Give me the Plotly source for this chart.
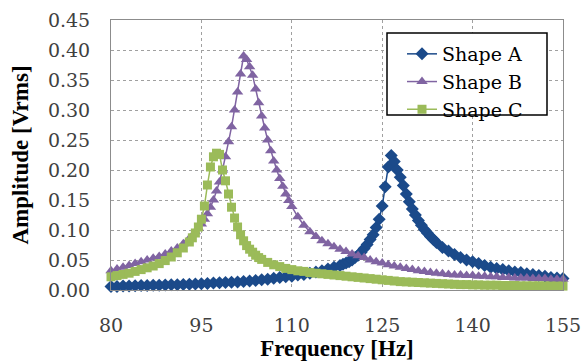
import plotly.graph_objects as go

# ---------------- data ----------------
freq_a = [80, 81, 82, 83, 84, 85, 86, 87, 88, 89, 90, 91, 92, 93, 94, 95, 96, 97, 98, 99,
          100, 101, 102, 103, 104, 105, 106, 107, 108, 109, 110, 111, 112, 113, 114, 115, 116, 117, 118,
          118.5, 119, 119.5, 120, 120.5, 121, 121.5, 122, 122.5, 123, 123.5, 124, 124.5, 125, 125.5,
          126, 126.5, 127, 127.5, 128, 128.5, 129, 129.5, 130, 130.5, 131, 131.5, 132, 132.5, 133, 133.5,
          134, 135, 136, 137, 138, 139, 140, 141, 142, 143, 144, 145, 146, 147, 148, 149, 150, 151,
          152, 153, 154, 155]
amp_a = [0.006, 0.006, 0.0065, 0.0068, 0.007, 0.0073, 0.0076, 0.0079, 0.008, 0.0083, 0.0086, 0.0089,
         0.009, 0.0095, 0.010, 0.0105, 0.011, 0.0115, 0.012, 0.0125, 0.013, 0.0135, 0.014, 0.015, 0.016,
         0.017, 0.018, 0.0195, 0.021, 0.022, 0.023, 0.025, 0.026, 0.028, 0.030, 0.032, 0.035, 0.038, 0.041,
         0.043, 0.045, 0.047, 0.050, 0.054, 0.058, 0.063, 0.069, 0.076, 0.084, 0.092, 0.104, 0.118, 0.140,
         0.172, 0.205, 0.224, 0.214, 0.200, 0.188, 0.174, 0.160, 0.147, 0.135, 0.125, 0.116, 0.108, 0.101,
         0.095, 0.089, 0.084,
         0.079, 0.071, 0.065, 0.059, 0.054, 0.050, 0.047, 0.044, 0.041, 0.038, 0.036, 0.034, 0.032, 0.030,
         0.029, 0.027, 0.026, 0.024, 0.023, 0.021, 0.020, 0.019]

freq_b = [80, 81, 82, 83, 84, 85, 86, 87, 88, 89, 90, 91, 92, 93, 94,
          94.5, 95, 95.5, 96, 96.5, 97, 97.5, 98, 98.5, 99, 99.5, 100, 100.5, 101, 101.5, 102, 102.5,
          103, 103.5, 104, 104.5, 105, 105.5, 106, 106.5, 107, 107.5, 108, 108.5, 109, 109.5, 110,
          111, 112, 113, 114, 115, 116, 117, 118, 119, 120, 121, 122, 123, 124, 125, 126, 127, 128, 129,
          130, 131, 132, 133, 134, 135, 136, 137, 138, 139, 140, 141, 142, 143, 144, 145, 146, 147, 148,
          149, 150, 151, 152, 153, 154, 155]
amp_b = [0.032, 0.035, 0.038, 0.041, 0.044, 0.047, 0.050, 0.053, 0.056, 0.060, 0.065, 0.070, 0.077,
         0.086, 0.097,
         0.103, 0.110, 0.118, 0.127, 0.138, 0.150, 0.165, 0.180, 0.200, 0.222, 0.247, 0.272, 0.300, 0.330,
         0.360, 0.390, 0.384, 0.372, 0.358, 0.335, 0.312, 0.290, 0.270, 0.250, 0.232, 0.215, 0.200, 0.186,
         0.173, 0.160, 0.149, 0.139,
         0.122, 0.108, 0.097, 0.089, 0.082, 0.077, 0.072, 0.068, 0.064, 0.060, 0.057, 0.054, 0.050, 0.047,
         0.045, 0.042, 0.040, 0.038, 0.036, 0.034, 0.032, 0.031, 0.029, 0.028, 0.027, 0.026, 0.025, 0.025,
         0.024, 0.024, 0.023, 0.023, 0.022, 0.022, 0.021, 0.021, 0.020, 0.020, 0.020, 0.019, 0.019, 0.019,
         0.018, 0.018, 0.018]

freq_c = [80, 81, 82, 83, 84, 85, 86, 87, 88, 89, 90, 91, 92, 93,
          93.5, 94, 94.5, 95, 95.5, 96, 96.5, 97, 97.5, 98, 98.5, 99, 99.5, 100, 100.5, 101, 101.5, 102,
          102.5, 103, 103.5, 104, 104.5, 105,
          106, 107, 108, 109, 110, 111, 112, 113, 114, 115, 116, 117, 118, 119, 120, 121, 122, 123, 124,
          125, 126, 127, 128, 129, 130, 131, 132, 133, 134, 135, 136, 137, 138, 139, 140, 141, 142, 143,
          144, 145, 146, 147, 148, 149, 150, 151, 152, 153, 154, 155]
amp_c = [0.022, 0.024, 0.026, 0.028, 0.031, 0.034, 0.037, 0.040, 0.044, 0.049, 0.055, 0.062, 0.070, 0.080,
         0.087, 0.095, 0.105, 0.118, 0.140, 0.175, 0.205, 0.222, 0.228, 0.226, 0.200, 0.182, 0.160, 0.138,
         0.120, 0.105, 0.092, 0.082, 0.074, 0.068, 0.063, 0.058, 0.054, 0.051,
         0.046, 0.042, 0.039, 0.036, 0.034, 0.032, 0.031, 0.029, 0.028, 0.027, 0.026, 0.025, 0.024, 0.023,
         0.022, 0.021, 0.020, 0.019, 0.018, 0.017, 0.016, 0.015, 0.014, 0.0135, 0.013, 0.0125, 0.012,
         0.0115, 0.011, 0.0105, 0.010, 0.0095, 0.009, 0.009, 0.0085, 0.0085, 0.008, 0.008, 0.008, 0.0075,
         0.0075, 0.0075, 0.007, 0.007, 0.007, 0.007, 0.0068, 0.0066, 0.0065, 0.0065]

series_names = ["Shape A", "Shape B", "Shape C"]
x_ticks = [80, 95, 110, 125, 140, 155]
y_ticks = [0.00, 0.05, 0.10, 0.15, 0.20, 0.25, 0.30, 0.35, 0.40, 0.45]

# ---------------- figure ----------------
REG = "DejaVu Serif"        # regular serif text
BOLD = "Liberation Serif"   # bold axis titles
colors = ["#1B4A8A", "#8064A2", "#9BBB59"]
symbols = ["diamond", "triangle-up", "square"]
sizes = [10, 10, 9]

fig = go.Figure()
for name, xs, ys, col, sym, sz in zip(series_names, [freq_a, freq_b, freq_c],
                                      [amp_a, amp_b, amp_c], colors, symbols, sizes):
    fig.add_trace(go.Scatter(
        x=xs, y=ys, name=name, mode="lines+markers",
        line=dict(color=col, width=1.5),
        marker=dict(symbol=sym, size=sz, color=col),
        cliponaxis=False,
    ))

# legend frame
fig.add_shape(type="rect", xref="paper", yref="paper",
              x0=(387 - 111) / 452, x1=(547 - 111) / 452,
              y0=(290 - 115) / 270, y1=(290 - 33) / 270,
              line=dict(color="black", width=1.5), fillcolor="white", layer="above")

fig.update_layout(
    width=582, height=361,
    margin=dict(l=111, r=19, t=20, b=71, autoexpand=False),
    paper_bgcolor="white", plot_bgcolor="white",
    font=dict(family=REG, size=19, color="#404040"),
    showlegend=True,
    legend=dict(x=(402 - 111) / 452, y=(290 - 35) / 270, xanchor="left", yanchor="top",
                bgcolor="rgba(0,0,0,0)", borderwidth=0,
                font=dict(family=REG, size=19, color="black"),
                tracegroupgap=0),
    xaxis=dict(
        range=[80, 155], tickvals=x_ticks, ticktext=[str(v) for v in x_ticks],
        automargin=False,
        showgrid=True, gridcolor="#A0A0A0", griddash="3px,3px", gridwidth=1,
        showline=True, linecolor="#8C8C8C", linewidth=1, mirror=True,
        zeroline=False, ticks="", ticklabelstandoff=18,
        tickfont=dict(family=REG, size=19, color="#404040"),
        title=dict(text="<b>Frequency [Hz]</b>", font=dict(family=BOLD, size=23, color="black"),
                   standoff=0),
    ),
    yaxis=dict(
        range=[0, 0.45], tickvals=y_ticks, tickformat=".2f",
        automargin=False,
        showgrid=True, gridcolor="#A0A0A0", griddash="3px,3px", gridwidth=1,
        showline=True, linecolor="#8C8C8C", linewidth=1, mirror=True,
        zeroline=False, ticks="", ticklabelstandoff=16,
        tickfont=dict(family=REG, size=19, color="#404040"),
        title=dict(text="<b>Amplitude [Vrms]</b>", font=dict(family=BOLD, size=23, color="black"),
                   standoff=12),
    ),
)

fig.write_html("out.html")
